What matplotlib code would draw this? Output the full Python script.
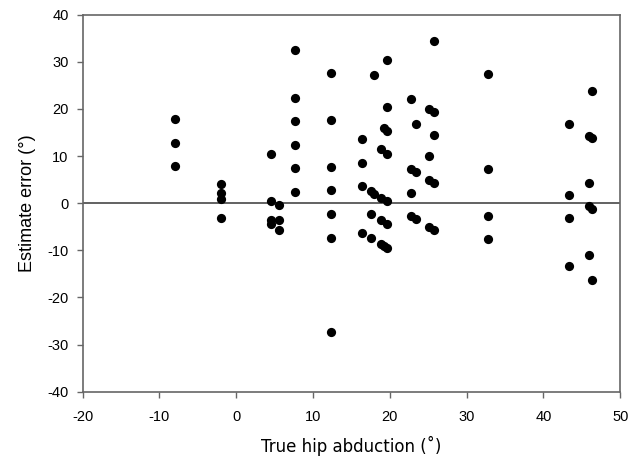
import matplotlib
matplotlib.use("Agg")
import matplotlib.pyplot as plt

plt.rcParams["axes.unicode_minus"] = False

# True hip abduction (deg) and estimate error (deg)
true_abd = [
    -8, -8, -8,
    -2, -2, -2, -2,
    4.5, 4.5, 4.5, 4.5,
    5.6, 5.6, 5.6,
    7.6, 7.6, 7.6, 7.6, 7.6, 7.6,
    12.3, 12.3, 12.3, 12.3, 12.3, 12.3, 12.3,
    16.4, 16.4, 16.4, 16.4,
    17.5, 17.5, 17.5,
    18.0, 18.0,
    18.8, 18.8, 18.8, 18.8,
    19.2, 19.2,
    19.7, 19.7, 19.7, 19.7, 19.7, 19.7, 19.7,
    22.8, 22.8, 22.8, 22.8,
    23.4, 23.4, 23.4,
    25.1, 25.1, 25.1, 25.1,
    25.7, 25.7, 25.7, 25.7, 25.7,
    32.8, 32.8, 32.8, 32.8,
    43.3, 43.3, 43.3, 43.3,
    45.9, 45.9, 45.9, 45.9,
    46.3, 46.3, 46.3, 46.3,
]
est_error = [
    17.9, 12.8, 7.9,
    4.0, 2.2, 0.9, -3.1,
    10.4, 0.5, -3.6, -4.4,
    -0.5, -3.6, -5.7,
    32.4, 22.4, 17.4, 12.4, 7.4, 2.3,
    27.7, 17.7, 7.7, 2.7, -2.2, -7.4, -27.4,
    13.7, 8.6, 3.7, -6.3,
    2.6, -2.3, -7.5,
    27.2, 2.0,
    11.4, 1.0, -3.6, -8.6,
    15.9, -9.0,
    30.3, 20.4, 15.3, 10.4, 0.4, -4.4, -9.6,
    22.2, 7.2, 2.2, -2.7,
    16.7, 6.6, -3.3,
    20.0, 10.0, 4.9, -5.1,
    34.4, 19.4, 14.4, 4.35, -5.7,
    27.4, 7.3, -2.7, -7.7,
    16.8, 1.8, -3.2, -13.3,
    14.3, 4.2, -0.7, -10.9,
    23.8, 13.8, -1.2, -16.3,
]

x_ticks = [-20, -10, 0, 10, 20, 30, 40, 50]
y_ticks = [-40, -30, -20, -10, 0, 10, 20, 30, 40]

fig = plt.figure(figsize=(6.4, 4.57), dpi=100)
ax = fig.add_axes([0.129, 0.143, 0.840, 0.825])

ax.scatter(true_abd, est_error, s=44, color="black", zorder=3, linewidths=0)
ax.axhline(0, color="#555555", lw=1.3, zorder=2)

ax.set_xlim(-20, 50)
ax.set_ylim(-40, 40)
ax.set_xticks(x_ticks)
ax.set_yticks(y_ticks)
for sp in ax.spines.values():
    sp.set_color("#666666")
    sp.set_linewidth(1.2)
ax.tick_params(direction="out", length=4, width=1, color="#666666",
               labelsize=10.5)
ax.tick_params(axis="x", pad=9)
ax.tick_params(axis="y", pad=6)
for lab in ax.get_xticklabels() + ax.get_yticklabels():
    lab.set_family("Liberation Sans")

ax.set_xlabel("True hip abduction (˚)", fontsize=12, family="DejaVu Sans", labelpad=9)
ax.set_ylabel("Estimate error (°)", fontsize=13, family="Liberation Sans", labelpad=8)

fig.savefig("out.png", dpi=100)
